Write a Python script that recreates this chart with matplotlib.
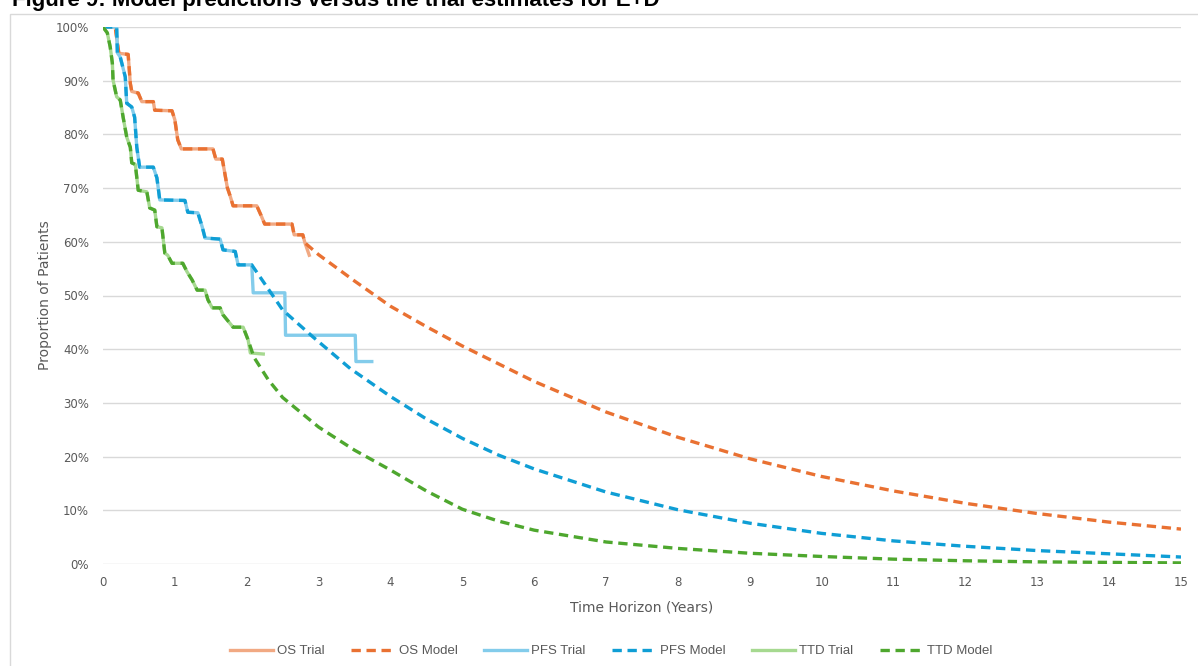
import matplotlib
matplotlib.use("Agg")
import matplotlib.pyplot as plt
from matplotlib.patches import Rectangle
from matplotlib.ticker import FuncFormatter
import numpy as np

# Kaplan-Meier trial curves (years, % alive / on treatment), corners
os_trial_t = [0, 0.17, 0.22, 0.35, 0.38, 0.40, 0.49, 0.54, 0.70, 0.72, 0.96, 1.00, 1.04, 1.09,
              1.53, 1.57, 1.66, 1.73, 1.77, 1.81, 2.14, 2.20, 2.25, 2.63, 2.66, 2.78, 2.81, 2.87]
os_trial_s = [100, 100, 95.1, 94.9, 89.5, 88.0, 87.7, 86.1, 86.1, 84.5, 84.4, 82.7, 79.0, 77.3,
              77.3, 75.4, 75.4, 70.1, 68.5, 66.7, 66.7, 64.9, 63.3, 63.3, 61.3, 61.3, 59.8, 57.5]

pfs_trial_t = [0, 0.19, 0.20, 0.24, 0.31, 0.33, 0.40, 0.44, 0.47, 0.51, 0.70, 0.75, 0.79, 1.14,
               1.18, 1.32, 1.38, 1.42, 1.63, 1.67, 1.84, 1.88, 2.07, 2.09, 2.53, 2.54, 3.51, 3.52, 3.74]
pfs_trial_s = [100, 100, 95.2, 94.4, 90.7, 85.8, 85.1, 83.2, 77.6, 73.9, 73.9, 71.9, 67.8, 67.7,
               65.5, 65.4, 62.8, 60.7, 60.5, 58.5, 58.2, 55.7, 55.7, 50.5, 50.5, 42.6, 42.6, 37.7, 37.7]

ttd_trial_t = [0, 0.06, 0.10, 0.13, 0.14, 0.19, 0.24, 0.28, 0.33, 0.38, 0.40, 0.45, 0.49, 0.61,
               0.65, 0.72, 0.75, 0.82, 0.86, 0.90, 0.96, 1.11, 1.17, 1.24, 1.31, 1.42, 1.46, 1.52,
               1.63, 1.67, 1.81, 1.95, 2.02, 2.05, 2.23]
ttd_trial_s = [100, 98.9, 96.3, 93.3, 90.1, 87.0, 86.4, 83.2, 79.5, 77.6, 74.7, 74.4, 69.6, 69.3,
               66.3, 65.9, 62.8, 62.6, 57.9, 57.5, 56.0, 56.0, 54.4, 52.9, 51.0, 51.0, 49.2, 47.7,
               47.7, 46.4, 44.1, 44.1, 41.7, 39.3, 39.1]

# model = KM up to the cut point (index of last shared corner), then the extrapolation
os_cut = 26
os_ext_t = [3.0, 3.5, 4, 4.5, 5, 6, 7, 8, 9, 10, 11, 12, 13, 14, 15]
os_ext_s = [57.6, 52.7, 48.0, 44.2, 40.6, 34.0, 28.3, 23.6, 19.6, 16.3, 13.6, 11.3, 9.4, 7.8, 6.5]

pfs_cut = 22
pfs_ext_t = [2.28, 2.5, 2.92, 3.44, 4, 4.5, 5, 5.5, 6, 7, 8, 9, 10, 11, 12, 13, 14, 15]
pfs_ext_s = [51.6, 47.3, 42.3, 36.4, 31.2, 27.0, 23.4, 20.3, 17.7, 13.4, 10.1, 7.6, 5.7, 4.3, 3.3, 2.5, 1.9, 1.3]

ttd_cut = 32
ttd_ext_t = [2.1, 2.3, 2.5, 3, 3.5, 4, 4.5, 5, 5.5, 6, 7, 8, 9, 10, 11, 12, 13, 14, 15]
ttd_ext_s = [38.5, 34.3, 31.0, 25.5, 21.2, 17.5, 13.6, 10.2, 8.0, 6.3, 4.1, 2.9, 2.0, 1.4, 0.9, 0.6, 0.4, 0.3, 0.2]

series = [
    ("OS", os_trial_t, os_trial_s, os_cut, os_ext_t, os_ext_s, "#F1A983", "#E97132"),
    ("PFS", pfs_trial_t, pfs_trial_s, pfs_cut, pfs_ext_t, pfs_ext_s, "#83CCEB", "#0F9ED5"),
    ("TTD", ttd_trial_t, ttd_trial_s, ttd_cut, ttd_ext_t, ttd_ext_s, "#A6D990", "#4EA72E"),
]

fig = plt.figure(figsize=(11.98, 6.66), dpi=100)
fig.patches.append(Rectangle((10 / 1198, -0.1), 1.2, 1 - 14 / 666 + 0.1, transform=fig.transFigure,
                             fill=False, edgecolor="#D9D9D9", linewidth=1.0))
# the title is cut by the top edge in the source picture
fig.text(12 / 1198, 1 - 6 / 666, "Figure 9: Model predictions versus the trial estimates for E+D",
         fontsize=16, fontweight="bold", family="Liberation Sans", va="baseline", ha="left")

ax = fig.add_axes([103 / 1198, 102 / 666, 1078 / 1198, 537 / 666])

handles = []
for name, tt, ts, cut, et, es, c_trial, c_model in series:
    h1, = ax.plot(tt, ts, color=c_trial, lw=2.4, solid_joinstyle="round", label=f"{name} Trial")
    mt = np.array(tt[:cut + 1] + et)
    ms = np.array(ts[:cut + 1] + es)
    h2, = ax.plot(mt, ms, color=c_model, lw=2.4, dashes=(2.8, 1.7), label=f"{name} Model")
    handles += [h1, h2]

ax.set_xlim(0, 15)
ax.set_ylim(0, 100)
ax.set_xticks(range(16))
ax.set_yticks(range(0, 101, 10))
ax.yaxis.set_major_formatter(FuncFormatter(lambda v, p: f"{int(v)}%"))
ax.grid(axis="y", color="#D9D9D9", lw=1.0)
ax.set_axisbelow(True)
for s in ax.spines.values():
    s.set_visible(False)
ax.tick_params(length=0, labelsize=8.5, colors="#595959", pad=9)
ax.tick_params(axis="y", pad=10)
ax.set_xlabel("Time Horizon (Years)", fontsize=10, color="#595959", labelpad=8)
ax.set_ylabel("Proportion of Patients", fontsize=10, color="#595959", labelpad=3)

leg = fig.legend(handles=handles, loc="center", bbox_to_anchor=(611 / 1198, 1 - 651 / 666), ncol=6,
                 frameon=False, handlelength=3.3, handletextpad=0.3, columnspacing=2.0,
                 prop={"family": "Liberation Sans", "size": 9.5})
for t in leg.get_texts():
    t.set_color("#595959")

fig.savefig("out.png", dpi=100)
